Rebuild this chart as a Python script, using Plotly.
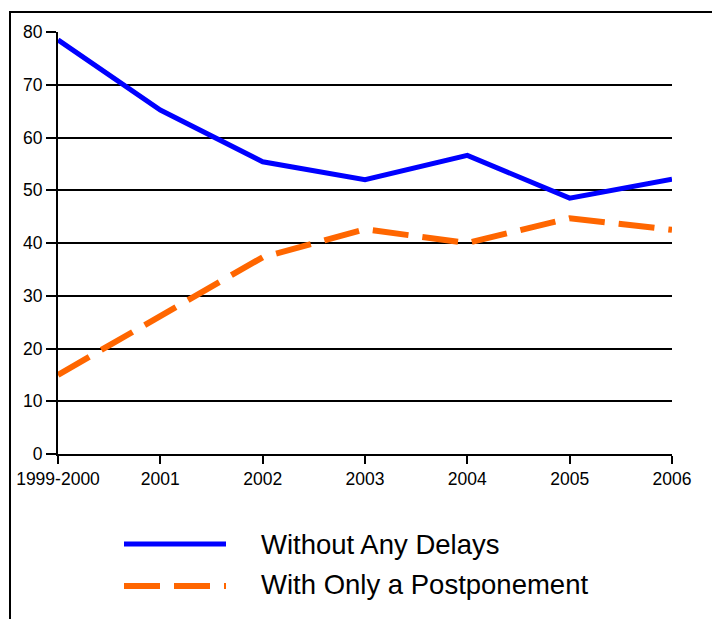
import plotly.graph_objects as go

categories = ["1999-2000", "2001", "2002", "2003", "2004", "2005", "2006"]
without_delays = [78.5, 65.2, 55.4, 52.0, 56.6, 48.5, 52.1]
postponement = [15.0, 26.0, 37.3, 42.6, 40.0, 44.7, 42.5]
series_names = ["Without Any Delays", "With Only a Postponement"]
y_ticks = [0, 10, 20, 30, 40, 50, 60, 70, 80]

BLUE = "#0000FF"
ORANGE = "#FF6600"
FONT = "Liberation Sans, Arial, sans-serif"

fig = go.Figure()
fig.add_trace(go.Scatter(x=categories, y=without_delays, mode="lines",
                         name=series_names[0],
                         line=dict(color=BLUE, width=5), showlegend=False))
fig.add_trace(go.Scatter(x=categories, y=postponement, mode="lines",
                         name=series_names[1],
                         line=dict(color=ORANGE, width=6, dash="36px,14px"),
                         showlegend=False))

L, R, T, B = 58, 40, 32, 165
W, H = 712, 619
pw, ph = W - L - R, H - T - B

def px(x):
    return (x - L) / pw

def py(y):
    return (H - B - y) / ph

shapes = [
    dict(type="rect", xref="paper", yref="paper",
         x0=px(10), x1=px(730), y0=py(640), y1=py(12),
         line=dict(color="black", width=2), fillcolor="rgba(0,0,0,0)", layer="below"),
    dict(type="line", xref="paper", yref="paper",
         x0=px(124), x1=px(226), y0=py(544), y1=py(544),
         line=dict(color=BLUE, width=5)),
    dict(type="line", xref="paper", yref="paper",
         x0=px(124), x1=px(226), y0=py(586), y1=py(586),
         line=dict(color=ORANGE, width=6, dash="36px,14px")),
]
annotations = [
    dict(xref="paper", yref="paper", x=px(259), y=py(544), text=series_names[0],
         showarrow=False, xanchor="left", yanchor="middle",
         font=dict(size=27.5, color="black", family=FONT)),
    dict(xref="paper", yref="paper", x=px(259), y=py(584), text=series_names[1],
         showarrow=False, xanchor="left", yanchor="middle",
         font=dict(size=27.5, color="black", family=FONT)),
]

fig.update_layout(
    width=W, height=H,
    margin=dict(l=L, r=R, t=T, b=B),
    paper_bgcolor="white", plot_bgcolor="white",
    font=dict(family=FONT, color="black"),
    shapes=shapes, annotations=annotations,
    xaxis=dict(type="category", range=[0, len(categories) - 1],
               showgrid=False, showline=True, linecolor="black", linewidth=2,
               ticks="outside", ticklen=8, tickwidth=2, tickcolor="black",
               tickfont=dict(size=17.5, family=FONT, color="black"),
               zeroline=False, fixedrange=True),
    yaxis=dict(range=[0, 80], tickvals=y_ticks,
               showgrid=True, gridcolor="black", gridwidth=2,
               showline=True, linecolor="black", linewidth=2,
               ticks="outside", ticklen=10, tickwidth=2, tickcolor="black",
               tickfont=dict(size=17.5, family=FONT, color="black"),
               zeroline=False, fixedrange=True),
)

fig.write_html("out.html", config={"displayModeBar": False},
               post_script="document.body.style.margin='0';document.body.style.padding='0';document.body.style.overflow='hidden';")
